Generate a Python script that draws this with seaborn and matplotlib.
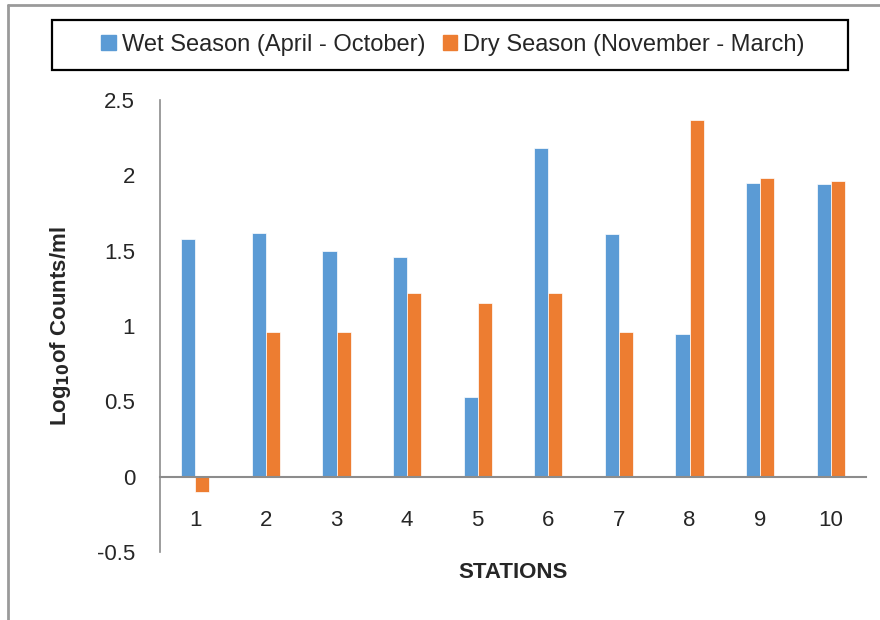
import matplotlib
matplotlib.use("Agg")
import matplotlib.pyplot as plt
import seaborn as sns
import pandas as pd
from matplotlib.lines import Line2D
from matplotlib.patches import Rectangle

stations = ["1", "2", "3", "4", "5", "6", "7", "8", "9", "10"]
wet = [1.58, 1.62, 1.50, 1.46, 0.53, 2.18, 1.61, 0.95, 1.95, 1.94]
dry = [-0.10, 0.96, 0.96, 1.22, 1.15, 1.22, 0.96, 2.37, 1.98, 1.96]
series = ["Wet Season (April - October)", "Dry Season (November - March)"]
colors = ["#5B9BD5", "#ED7D31"]
yticks = [-0.5, 0, 0.5, 1, 1.5, 2, 2.5]

df = pd.DataFrame({
    "Station": stations * 2,
    "Value": wet + dry,
    "Season": [series[0]] * len(stations) + [series[1]] * len(stations),
})

sns.set_style("white")
plt.rcParams["font.family"] = ["Liberation Sans", "DejaVu Sans"]
plt.rcParams["mathtext.default"] = "regular"

fig = plt.figure(figsize=(8.8, 6.2), dpi=100)
ax = fig.add_axes([160/880, 1-552/620, 706/880, 452/620])

sns.barplot(data=df, x="Station", y="Value", hue="Season", order=stations,
            hue_order=series, palette=colors, width=0.4, ax=ax,
            saturation=1, legend=False, errorbar=None,
            edgecolor="white", linewidth=0.5)

ax.set_ylim(-0.5, 2.5)
ax.set_xlim(-0.5, 9.5)
ax.set_yticks(yticks)
ax.set_yticklabels([f"{t:g}" for t in yticks], fontsize=16)
ax.tick_params(axis="y", direction="out", length=6, color="#8c8c8c", width=1.2, pad=12)
ax.tick_params(axis="x", length=0, pad=24, labelsize=16)
for s in ["top", "right"]:
    ax.spines[s].set_visible(False)
ax.spines["bottom"].set_position(("data", 0))
ax.spines["bottom"].set_color("#8c8c8c")
ax.spines["bottom"].set_linewidth(1.5)
ax.spines["left"].set_color("#8c8c8c")
ax.spines["left"].set_linewidth(1.2)

ax.set_xlabel("STATIONS", fontsize=16, fontweight="bold")
ax.xaxis.set_label_coords(0.5, -0.022)
ax.set_ylabel(r"Log$_{\mathbf{10}}$of Counts/ml", fontsize=16, fontweight="bold")
ax.yaxis.set_label_coords(-0.123, 0.5)

handles = [plt.Rectangle((0, 0), 1, 1, color=c) for c in colors]
leg = fig.legend(handles, series, loc="center",
                 bbox_to_anchor=(453/880, 1-45/620), ncol=2, fontsize=17,
                 frameon=False, handlelength=0.62, handleheight=0.62,
                 handletextpad=0.25, columnspacing=0.75, borderpad=0)
fig.add_artist(Rectangle((52/880, 1-70/620), 796/880, 50/620, fill=False,
                         edgecolor="black", lw=1.6, transform=fig.transFigure))

# outer border
fig.add_artist(Line2D([8/880, 8/880], [0, 1-5/620], color="#9a9a9a", lw=2,
                      transform=fig.transFigure))
fig.add_artist(Line2D([8/880, 1], [1-5/620, 1-5/620], color="#9a9a9a", lw=2,
                      transform=fig.transFigure))

fig.savefig("out.png", dpi=100)
